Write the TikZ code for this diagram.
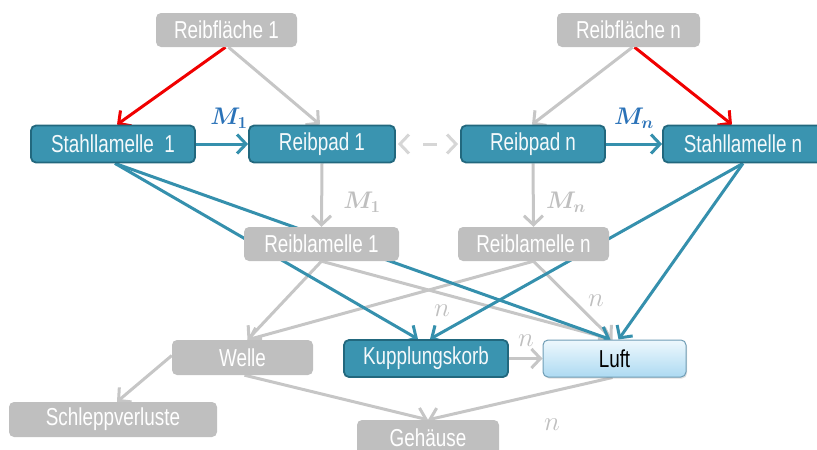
\documentclass[tikz,border=0pt]{standalone}
\usepackage{fix-cm}
\usepackage{fontspec}
\setmainfont{Liberation Sans}[FakeStretch=0.77]
\usetikzlibrary{arrows.meta,shadows}

\definecolor{tealfill}{HTML}{3A94B0}
\definecolor{tealedge}{HTML}{22687E}
\definecolor{tealline}{HTML}{3590AD}
\definecolor{greyfill}{HTML}{BFBFBF}
\definecolor{greyline}{HTML}{C6C6C6}
\definecolor{dashgrey}{HTML}{D6D6D6}
\definecolor{mblue}{HTML}{2A72B8}
\definecolor{lufttop}{HTML}{EEF8FD}
\definecolor{luftbot}{HTML}{ADDAF2}
\definecolor{luftedge}{HTML}{6F9DB5}
\definecolor{redline}{HTML}{F00000}
\definecolor{boxtext}{HTML}{F4F9FB}

\pgfdeclarelayer{edges}
\pgfsetlayers{edges,main}

\begin{document}
\begin{tikzpicture}[x=1pt,y=-1pt,
  box/.style={rounded corners=5pt, inner sep=0pt, align=center,
    font=\fontsize{24.5}{28}\selectfont},
  tealbox/.style={box, fill=tealfill, draw=tealedge, line width=1.8pt,
    text=boxtext, minimum height=37pt},
  greybox/.style={box, fill=greyfill, text=white, minimum height=34pt},
  airbox/.style={box, top color=lufttop, bottom color=luftbot,
    draw=luftedge, line width=1pt, text=black, minimum height=37pt,
    drop shadow={opacity=0.25, shadow xshift=1pt, shadow yshift=-1.5pt}},
  tip/.style={-{Straight Barb[length=9pt,width=19pt]}},
  greyarr/.style={tip, draw=greyline, line width=3pt},
  tealarr/.style={tip, draw=tealline, line width=3pt},
  redarr/.style={tip, draw=redline, line width=3pt},
  dasharr/.style={{Straight Barb[length=9pt,width=19pt]}-{Straight Barb[length=9pt,width=19pt]},
    draw=dashgrey, line width=3pt, dash pattern=on 14pt off 32pt,
    dash phase=24pt, shorten <=2pt, shorten >=2pt},
  mlab/.style={inner sep=0pt, font=\fontsize{24}{28}\selectfont\boldmath},
  nlab/.style={inner sep=0pt, text=greyfill, font=\fontsize{27}{31}\selectfont},
]
\useasboundingbox (0,0) rectangle (817,450);
\clip (0,0) rectangle (817,450);

% boxes
\node[greybox, minimum width=141pt] (rf1) at (226.5,30) {Reibfläche 1};
\node[greybox, minimum width=143pt] (rfn) at (628.5,30) {Reibfläche n};
\node[tealbox, minimum width=164pt] (sl1) at (113,144) {Stahllamelle~~1};
\node[tealbox, minimum width=146pt] (rp1) at (322,144) {Reibpad 1};
\node[tealbox, minimum width=144pt] (rpn) at (533,144) {Reibpad n};
\node[tealbox, minimum width=160pt] (sln) at (743,144) {Stahllamelle n};
\node[greybox, minimum width=155pt] (rl1) at (321.5,244) {Reiblamelle 1};
\node[greybox, minimum width=151pt] (rln) at (533.5,244) {Reiblamelle n};
\node[greybox, minimum width=141pt, minimum height=35pt] (we) at (242.5,357.5) {Welle};
\node[tealbox, minimum width=164pt] (kk) at (426,358.5) {Kupplungskorb};
\node[airbox, minimum width=143pt] (lu) at (614.5,358.5) {Luft};
\node[greybox, minimum width=208pt, minimum height=35pt] (sv) at (113,419.5) {Schleppverluste};
\node[greybox, minimum width=142pt, minimum height=35pt] (ge) at (428,437.5) {Gehäuse};

% labels
\node[mlab, text=mblue] (m1) at (229,118) {$M_1$};
\node[mlab, text=mblue] (mn) at (634,118) {$M_n$};
\node[mlab, text=greyfill] (m1b) at (362,202) {$M_1$};
\node[mlab, text=greyfill] (mnb) at (566,202) {$M_n$};
\node[nlab] (n1) at (442,311) {$n$};
\node[nlab] (n2) at (596,301) {$n$};
\node[nlab] (n3) at (526,341) {$n$};
\node[nlab] (n4) at (552,425) {$n$};

\begin{pgfonlayer}{edges}
  % grey connectors
  \draw[greyarr] ([xshift=2pt]rf1.south) -- ([xshift=-2pt]rp1.north);
  \draw[greyarr] ([xshift=4pt]rfn.south) -- ([xshift=-1pt]rpn.north);
  \draw[greyarr] (rp1.south) -- (rl1.north);
  \draw[greyarr] (rpn.south) -- (rln.north);
  \draw[greyarr] (rl1.south) -- ([xshift=5pt]we.north);
  \draw[greyarr] (rln.south) -- ([xshift=5pt]we.north);
  \draw[greyarr] (rl1.south) -- ([xshift=-2pt]lu.north);
  \draw[greyarr] (rln.south) -- ([xshift=-2pt]lu.north);
  \draw[greyarr] (kk.east) -- (lu.west);
  \draw[greyarr] ([yshift=2pt]we.west) -- ([xshift=4pt]sv.north);
  \draw[greyarr] ([xshift=2pt]we.south) -- (ge.north);
  \draw[greyarr] ([xshift=-2pt]lu.south) -- (ge.north);
  \draw[dasharr] (rp1.east) -- (rpn.west);
  % teal connectors
  \draw[tealarr] (sl1.east) -- (rp1.west);
  \draw[tealarr] (rpn.east) -- (sln.west);
  \draw[tealarr] ([xshift=2pt]sl1.south) -- ([xshift=-8pt]kk.north);
  \draw[tealarr] ([xshift=2pt]sl1.south) -- ([xshift=-4pt]lu.north);
  \draw[tealarr] (sln.south) -- ([xshift=4pt]kk.north);
  \draw[tealarr] (sln.south) -- ([xshift=4pt]lu.north);
  % red connectors
  \draw[redarr] ([xshift=-1pt]rf1.south) -- ([xshift=4pt]sl1.north);
  \draw[redarr] ([xshift=6pt]rfn.south) -- ([xshift=-11pt]sln.north);
\end{pgfonlayer}
\end{tikzpicture}
\end{document}
